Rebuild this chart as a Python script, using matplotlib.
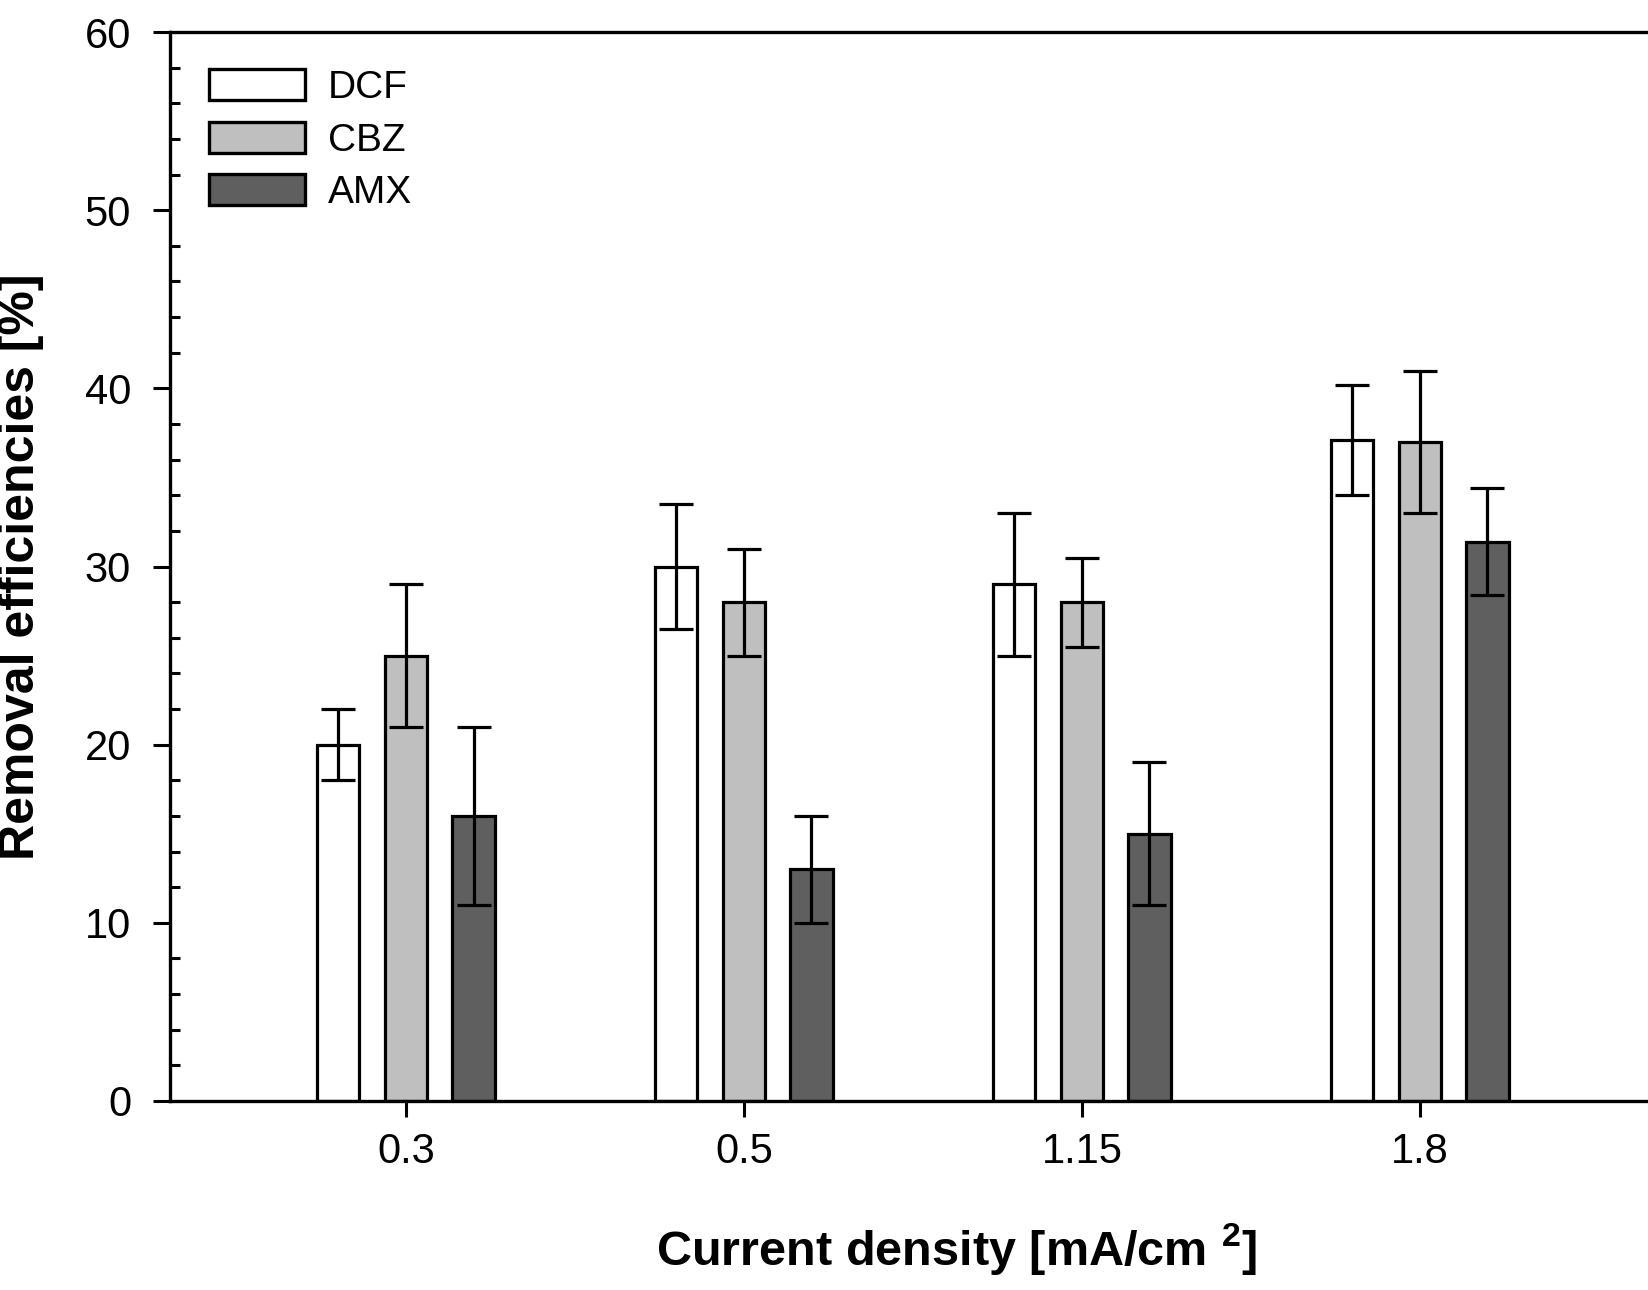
import matplotlib
matplotlib.use('Agg')
import matplotlib.pyplot as plt
import numpy as np

plt.rcParams['font.family'] = ['Liberation Sans', 'DejaVu Sans']
plt.rcParams['mathtext.fontset'] = 'custom'
plt.rcParams['mathtext.bf'] = 'Liberation Sans:bold'
plt.rcParams['mathtext.rm'] = 'Liberation Sans'

# data
current_density = ['0.3', '0.5', '1.15', '1.8']
compounds = ['DCF', 'CBZ', 'AMX']
dcf_mean = [20, 30, 29, 37.1]
dcf_err = [2, 3.5, 4, 3.1]
cbz_mean = [25, 28, 28, 37]
cbz_err = [4, 3, 2.5, 4]
amx_mean = [16, 13, 15, 31.4]
amx_err = [5, 3, 4, 3]

means = [dcf_mean, cbz_mean, amx_mean]
errs = [dcf_err, cbz_err, amx_err]
fills = ['#ffffff', '#bfbfbf', '#5f5f5f']

fig = plt.figure(figsize=(16.48, 12.90), dpi=100)
ax = fig.add_axes([170 / 1648, 1 - 1101 / 1290, 1 - 170 / 1648, (1101 - 32) / 1290])

x = np.arange(len(current_density))
offsets = [-0.2, 0.0, 0.2]
width = 0.125

for name, m, e, col, off in zip(compounds, means, errs, fills, offsets):
    ax.bar(x + off, m, width, color=col, edgecolor='black', linewidth=2.3, label=name, zorder=1)
    ax.errorbar(x + off, m, yerr=e, fmt='none', ecolor='black', elinewidth=2.3,
                capsize=12, capthick=2.3, zorder=3)

ax.set_xlim(-0.698, 3.675)
ax.set_ylim(0, 60)
ax.set_xticks(x)
ax.set_xticklabels(current_density)
ax.set_yticks(np.arange(0, 61, 10))
ax.set_yticks(np.arange(0, 61, 2), minor=True)

ax.tick_params(axis='y', which='major', direction='out', length=12, width=2.2, labelsize=30, pad=16)
ax.tick_params(axis='y', which='minor', direction='in', length=7, width=2.2)
ax.tick_params(axis='x', which='major', direction='out', length=11.5, width=2.2, labelsize=30, pad=11)
ax.tick_params(axis='x', which='minor', bottom=False)

for side in ['left', 'bottom', 'top']:
    ax.spines[side].set_linewidth(2.4)
ax.spines['right'].set_visible(False)

ax.set_ylabel('Removal efficiencies [%]', fontsize=36, fontweight='bold')
ax.yaxis.set_label_coords(-0.0853, 0.5)
ax.set_xlabel(r'Current density [mA/cm $^{\mathbf{2}}$]', fontsize=35, fontweight='bold')
ax.xaxis.set_label_coords(0.532, -0.113)

leg = ax.legend(loc='upper left', bbox_to_anchor=(0.0264, 0.965), frameon=False,
                fontsize=28, handlelength=2.47, handleheight=0.85, handletextpad=0.59,
                labelspacing=0.40, borderpad=0, borderaxespad=0)
for p in leg.get_patches():
    p.set_linewidth(2.4)

fig.savefig('out.png', dpi=100)
